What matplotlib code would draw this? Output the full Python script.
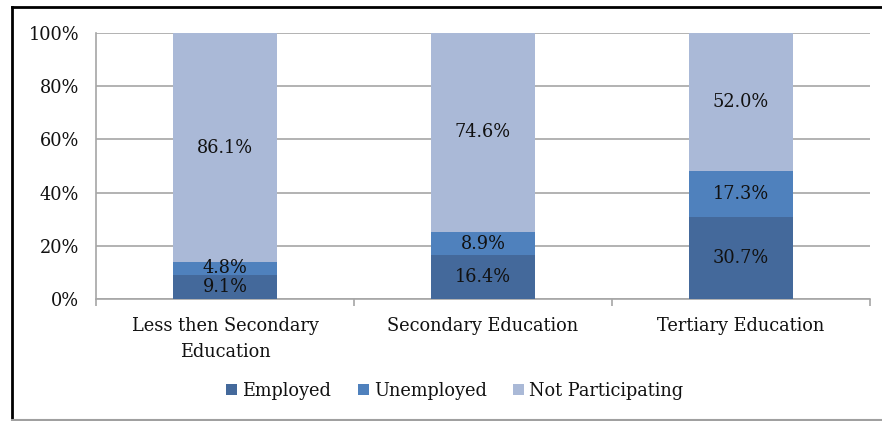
import numpy as np
import matplotlib.pyplot as plt
from matplotlib.lines import Line2D

categories = ["Less then Secondary\nEducation", "Secondary Education", "Tertiary Education"]
employed = [9.1, 16.4, 30.7]
unemployed = [4.8, 8.9, 17.3]
not_participating = [86.1, 74.6, 52.0]

series = [("Employed", employed, "#44699b"),
          ("Unemployed", unemployed, "#4f81bd"),
          ("Not Participating", not_participating, "#aab9d7")]

plt.rcParams["font.family"] = ["DejaVu Serif"]
plt.rcParams["font.size"] = 12.8
text_color = "#111111"

fig = plt.figure(figsize=(8.82, 4.21), dpi=100)
ax = fig.add_axes([96 / 882, 1 - 299 / 421, 774 / 882, 266 / 421])

x = np.arange(len(categories))
bottom = np.zeros(len(categories))
for name, vals, color in series:
    vals = np.array(vals)
    ax.bar(x, vals / 100, width=0.4, bottom=bottom / 100, color=color,
           label=name, zorder=3)
    for xi, b, v in zip(x, bottom, vals):
        ax.text(xi, (b + v / 2) / 100, f"{v:.1f}%", ha="center", va="center",
                color=text_color, zorder=4)
    bottom += vals

ax.set_xlim(-0.5, 2.5)
ax.set_ylim(0, 1)
ax.set_yticks(np.arange(0, 1.01, 0.2))
ax.set_yticklabels([f"{int(round(t * 100))}%" for t in np.arange(0, 1.01, 0.2)])
ax.yaxis.grid(True, color="#a6a6a6", linewidth=1.2, zorder=0)
ax.tick_params(axis="y", length=0, pad=12, colors=text_color)

# category labels without ticks, separator ticks at category boundaries
ax.set_xticks(x)
ax.set_xticklabels(categories, color=text_color, linespacing=1.55)
ax.tick_params(axis="x", length=0, pad=13)
ax.set_xticks(np.arange(-0.5, 3, 1), minor=True)
ax.tick_params(axis="x", which="minor", length=5, width=1.2, color="#a6a6a6",
               direction="out")

for side in ["top", "right"]:
    ax.spines[side].set_visible(False)
for side in ["left", "bottom"]:
    ax.spines[side].set_color("#a6a6a6")
    ax.spines[side].set_linewidth(1.2)

ax.legend(loc="center", bbox_to_anchor=(455 / 882, 1 - 391 / 421),
          bbox_transform=fig.transFigure, ncol=3, frameon=False,
          handlelength=0.6, handleheight=0.6, handletextpad=0.3,
          columnspacing=1.5, labelcolor=text_color)

# outer frame
fig.add_artist(Line2D([11.5 / 882, 11.5 / 882], [0, 1 - 6.5 / 421], color="black", lw=2))
fig.add_artist(Line2D([11.5 / 882, 1], [1 - 6.5 / 421, 1 - 6.5 / 421], color="black", lw=2))
fig.add_artist(Line2D([11.5 / 882, 1], [1.5 / 421, 1.5 / 421], color="#a0a0a0", lw=1.5))

fig.savefig("out.png", dpi=100)
